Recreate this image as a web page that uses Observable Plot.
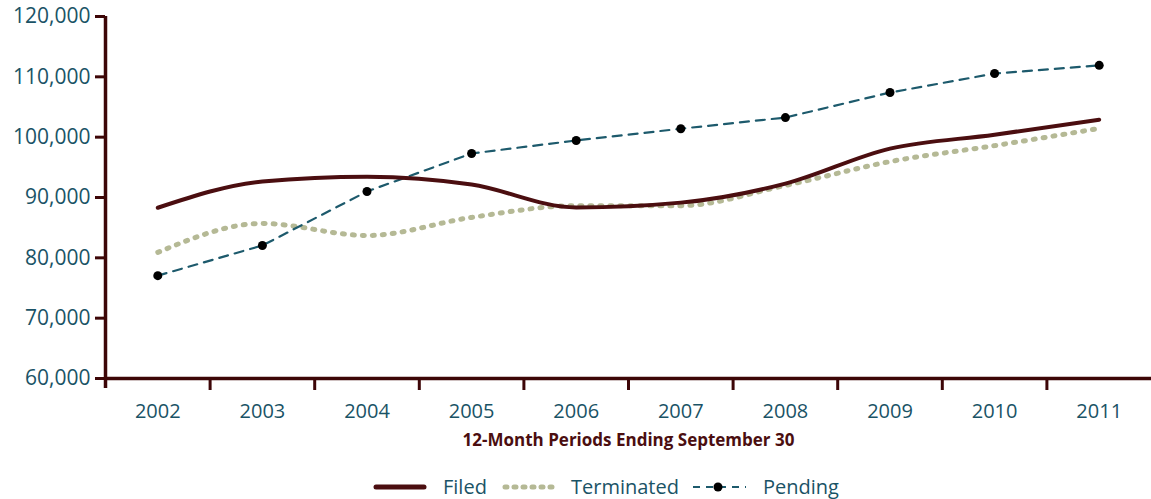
<!DOCTYPE html>
<html>
<head>
<meta charset="utf-8">
<script src="https://cdn.jsdelivr.net/npm/d3@7"></script>
<script src="https://cdn.jsdelivr.net/npm/@observablehq/plot@0.6"></script>
<style>
  html, body { margin: 0; padding: 0; background: #fff; }
  #chart { width: 1151px; height: 499px; position: relative; font-family: "Open Sans", sans-serif; }
</style>
</head>
<body>
<div id="chart"></div>
<script>
const years = [2002, 2003, 2004, 2005, 2006, 2007, 2008, 2009, 2010, 2011];
const filed = [88300, 92650, 93450, 92150, 88350, 89150, 92300, 98100, 100400, 102900];
const terminated = [80900, 85700, 83700, 86700, 88650, 88650, 92000, 95950, 98600, 101450];
const pending = [77050, 82050, 91000, 97300, 99450, 101400, 103250, 107400, 110550, 111900];
const yTicks = [60000, 70000, 80000, 90000, 100000, 110000, 120000];
const seriesNames = ["Filed", "Terminated", "Pending"];
const xTitle = "12-Month Periods Ending September 30";

const colFiled = "#4b0e10";
const colTerm = "#b5b995";
const colPend = "#1d5a6c";
const colAxis = "#3d0607";
const colText = "#1a5366";

const rows = (vals) => years.map((y, i) => ({year: y, value: vals[i]}));
const filedRows = rows(filed), termRows = rows(terminated), pendRows = rows(pending);
const boundaries = years.slice(0, -1).map(y => y + 0.5);

const plot = Plot.plot({
  width: 1151,
  height: 460,
  marginTop: 16,
  marginBottom: 82,
  marginLeft: 105,
  marginRight: 0,
  style: {fontFamily: "Open Sans, sans-serif", background: "#fff", overflow: "visible"},
  x: {domain: [2001.5, 2011.5]},
  y: {domain: [60000, 120000]},
  marks: [
    Plot.axisY({ticks: yTicks, tickSize: 10, tickPadding: 5, tickFormat: d3.format(","), stroke: colAxis, strokeWidth: 3, fill: colText, fontSize: 21, label: null}),
    Plot.axisX({ticks: years, tickSize: 0, tickPadding: 25, tickFormat: d => String(d), fill: colText, fontSize: 20, label: null}),
    Plot.axisX({ticks: boundaries, tickSize: 12, tickFormat: () => "", stroke: colAxis, strokeWidth: 3, label: null}),
    Plot.ruleY([60000], {stroke: colAxis, strokeWidth: 3.5}),
    Plot.ruleX([2001.5], {y1: 120000, y2: 58350, stroke: colAxis, strokeWidth: 3.5}),
    Plot.line(termRows, {x: "year", y: "value", stroke: colTerm, strokeWidth: 5, strokeDasharray: "2,8", strokeLinecap: "round", curve: "monotone-x"}),
    Plot.line(pendRows, {x: "year", y: "value", stroke: colPend, strokeWidth: 2.2, strokeDasharray: "9,7", curve: "linear"}),
    Plot.dot(pendRows, {x: "year", y: "value", r: 4.5, fill: "#000", stroke: "none"}),
    Plot.line(filedRows, {x: "year", y: "value", stroke: colFiled, strokeWidth: 4, curve: "monotone-x"}),
    Plot.text([xTitle], {frameAnchor: "bottom", dy: 67, lineAnchor: "bottom", fontSize: 17, fontWeight: "bold", fill: colFiled})
  ]
});
const chart = document.getElementById("chart");
chart.appendChild(plot);

// Legend below the SVG
const leg = d3.create("svg").attr("width", 1151).attr("height", 39).style("display", "block");
const cy = 27;
leg.append("line").attr("x1", 376).attr("x2", 424).attr("y1", cy).attr("y2", cy)
  .attr("stroke", colFiled).attr("stroke-width", 5).attr("stroke-linecap", "round");
leg.append("line").attr("x1", 505).attr("x2", 553).attr("y1", cy).attr("y2", cy)
  .attr("stroke", colTerm).attr("stroke-width", 5).attr("stroke-dasharray", "2,7").attr("stroke-linecap", "round");
leg.append("line").attr("x1", 693).attr("x2", 746).attr("y1", cy).attr("y2", cy)
  .attr("stroke", colPend).attr("stroke-width", 2).attr("stroke-dasharray", "7,6");
leg.append("circle").attr("cx", 718).attr("cy", cy).attr("r", 4.5).attr("fill", "#000");
const labels = [[443, seriesNames[0]], [571, seriesNames[1]], [763, seriesNames[2]]];
for (const [x, t] of labels) {
  leg.append("text").attr("x", x).attr("y", cy + 7).attr("fill", colText)
    .attr("font-size", 20).attr("font-family", "Open Sans, sans-serif").text(t);
}
chart.appendChild(leg.node());
</script>
</body>
</html>
